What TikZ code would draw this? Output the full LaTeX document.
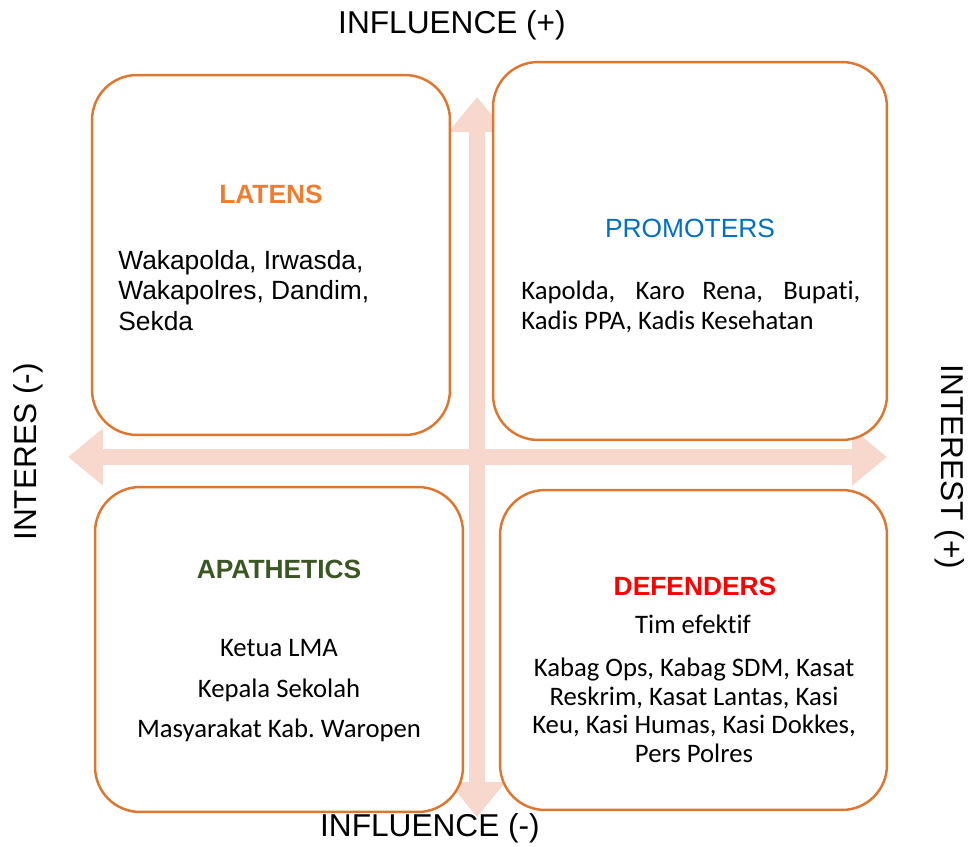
\documentclass[tikz,border=0pt]{standalone}
\usepackage{fontspec}
\setmainfont{Liberation Sans}
\newfontfamily\calibri[Ligatures=NoCommon]{Carlito}
\usetikzlibrary{arrows.meta}

\definecolor{boxorange}{RGB}{222,118,48}
\definecolor{axispink}{RGB}{248,215,204}
\definecolor{latorange}{RGB}{237,125,49}
\definecolor{problue}{RGB}{0,112,192}
\definecolor{apagreen}{RGB}{56,87,35}

\begin{document}
\begin{tikzpicture}[x=0.02cm,y=-0.02cm,
    quad/.style={draw=boxorange,line width=1.4pt,fill=white,rounded corners=0.9cm,inner sep=0pt},
    axis/.style={draw=axispink,line width=0.32cm,{Triangle[length=0.7cm,width=1.1cm]}-{Triangle[length=0.7cm,width=1.1cm]}},
    axislabel/.style={font=\fontsize{18}{21}\selectfont,inner sep=0pt},
    head/.style={font=\fontsize{15}{18}\bfseries\selectfont,inner sep=0pt},
    body/.style={font=\calibri\fontsize{15.2}{17}\selectfont,inner sep=0pt}]

\useasboundingbox (0,0) rectangle (969,847);

% axes
\coordinate (inflTop) at (477,97);
\coordinate (inflBot) at (477,817);
\coordinate (intLeft) at (68,457);
\coordinate (intRight) at (887,457);
\draw[axis] (inflBot) -- (inflTop);
\draw[axis] (intLeft) -- (intRight);

% quadrants
\node[quad, minimum width=7.16cm, minimum height=7.2cm]  (lat) at (271,255) {};
\node[quad, minimum width=7.88cm, minimum height=7.56cm] (pro) at (690,251) {};
\node[quad, minimum width=7.36cm, minimum height=6.5cm]  (apa) at (279,649.5) {};
\node[quad, minimum width=7.74cm, minimum height=6.4cm]  (def) at (693.5,650) {};

\node[axislabel] (inflPlus)  at (452,25)  {INFLUENCE (+)};
\node[axislabel] (inflMinus) at (430,828) {INFLUENCE (-)};
\node[axislabel, rotate=90]  (intMinus) at (28,452)  {INTERES (-)};
\node[axislabel, rotate=-90] (intPlus)  at (950,467) {INTEREST (+)};

\node[head, text=latorange] (latT) at (271,194) {LATENS};
\node[font=\fontsize{15}{17.3}\selectfont, inner sep=0pt, align=left, anchor=north west] (latB) at (118,250)
  {Wakapolda, Irwasda,\\Wakapolres, Dandim,\\Sekda};

\node[font=\fontsize{15}{18}\selectfont, inner sep=0pt, text=problue] (proT) at (690,228) {PROMOTERS};
\node[body, text width=6.78cm, align=justify, anchor=north west] (proB) at (521,281)
  {Kapolda, Karo Rena, Bupati, Kadis PPA, Kadis Kesehatan};

\node[head, text=apagreen] (apaT) at (279,569) {APATHETICS};
\node[body, anchor=base] (apa1) at (279,656) {Ketua LMA};
\node[body, anchor=base] (apa2) at (279,697) {Kepala Sekolah};
\node[body, anchor=base] (apa3) at (279,737) {Masyarakat Kab.\ Waropen};

\node[head, text=red] (defT) at (695,586) {DEFENDERS};
\node[body, anchor=base] (def1) at (693,633) {Tim efektif};
\node[body, font=\calibri\fontsize{15.2}{16.2}\selectfont, align=center, anchor=north] (def2) at (694,658)
  {Kabag Ops, Kabag SDM, Kasat\\Reskrim, Kasat Lantas, Kasi\\Keu, Kasi Humas, Kasi Dokkes,\\Pers Polres};

\end{tikzpicture}
\end{document}
